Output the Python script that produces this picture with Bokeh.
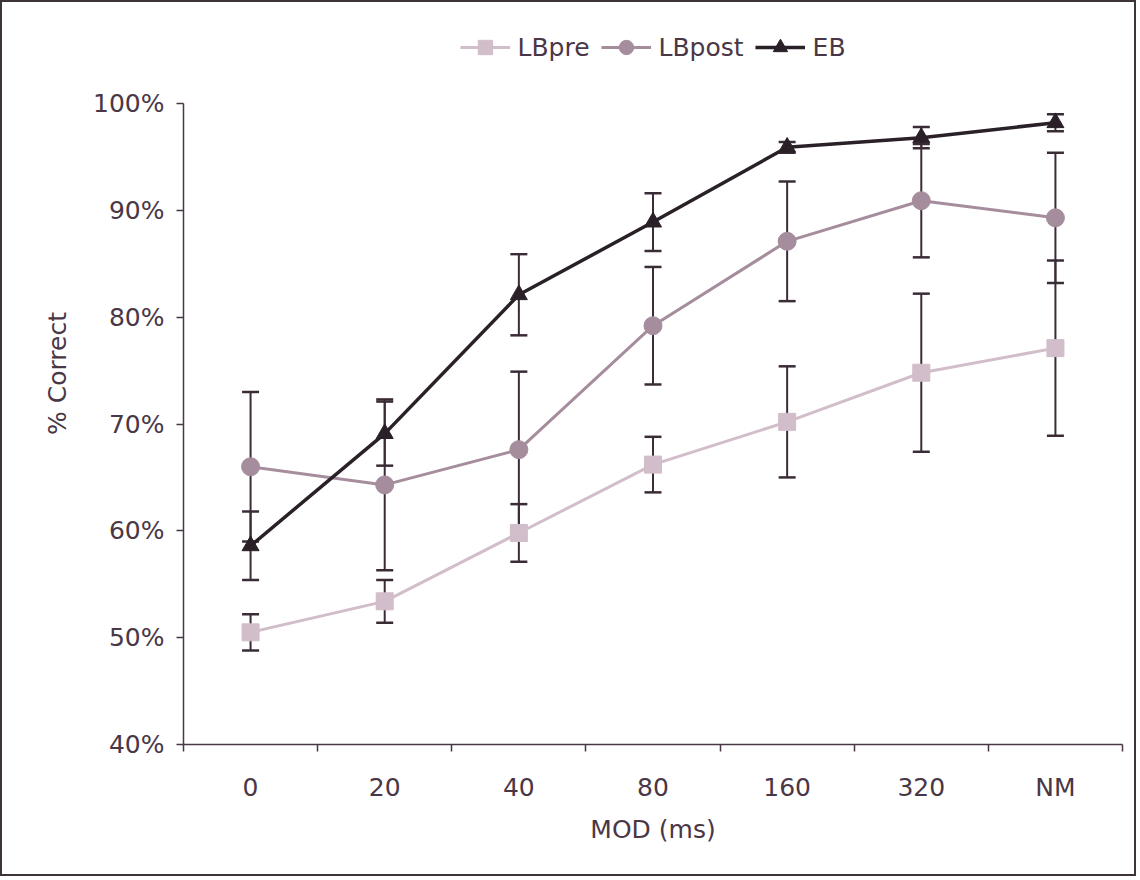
from bokeh.plotting import figure
from bokeh.models import (Range1d, FixedTicker, Whisker, TeeHead, ColumnDataSource,
                          Legend, LegendItem)
from bokeh.embed import file_html
from bokeh.resources import INLINE

categories = ["0", "20", "40", "80", "160", "320", "NM"]
lbpre = [50.5, 53.4, 59.8, 66.2, 70.2, 74.8, 77.1]
lbpre_err = [1.7, 2.0, 2.7, 2.6, 5.2, 7.4, 8.2]
lbpost = [66.0, 64.3, 67.6, 79.2, 87.1, 90.9, 89.3]
lbpost_err = [7.0, 8.0, 7.3, 5.5, 5.6, 5.3, 6.1]
eb = [58.6, 69.1, 82.1, 88.9, 95.9, 96.8, 98.2]
eb_err = [3.2, 3.0, 3.8, 2.7, 0.5, 1.0, 0.8]
y_ticks = [40, 50, 60, 70, 80, 90, 100]
y_tick_labels = ["40%", "50%", "60%", "70%", "80%", "90%", "100%"]

FONT = "DejaVu Sans"
TXT = "#4a3746"
FS = "25px"

xs = [i + 0.5 for i in range(len(categories))]

# frame spans the whole top; axis line stops at 100%
Y_MIN, Y_MAX = 40, 100
FRAME_H = 742
y_top = Y_MIN + FRAME_H * (Y_MAX - Y_MIN) / 641.0

p = figure(width=1136, height=876, output_backend="svg", toolbar_location=None,
           x_range=Range1d(0, len(categories)), y_range=Range1d(Y_MIN, y_top),
           min_border_left=181, min_border_right=16, min_border_top=0,
           min_border_bottom=134,
           styles={"border": "2px solid #3c3438"})
p.outline_line_color = None
p.xgrid.grid_line_color = None
p.ygrid.grid_line_color = None
p.background_fill_color = "white"
p.border_fill_color = "white"

# x axis
p.xaxis.ticker = FixedTicker(ticks=xs, minor_ticks=list(range(len(categories) + 1)))
p.xaxis.major_label_overrides = {x: c for x, c in zip(xs, categories)}
p.xaxis.major_tick_out = 0
p.xaxis.major_tick_in = 0
p.xaxis.minor_tick_out = 7
p.xaxis.minor_tick_in = 0
p.xaxis.minor_tick_line_color = TXT
p.xaxis.minor_tick_line_width = 1.5
p.xaxis.axis_line_color = TXT
p.xaxis.axis_line_width = 1.5
p.xaxis.major_label_text_font = FONT
p.xaxis.major_label_text_font_size = FS
p.xaxis.major_label_text_color = TXT
p.xaxis.major_label_standoff = 21
p.xaxis.axis_label = "MOD (ms)"
p.xaxis.axis_label_text_font = FONT
p.xaxis.axis_label_text_font_size = FS
p.xaxis.axis_label_text_font_style = "normal"
p.xaxis.axis_label_text_color = TXT
p.xaxis.axis_label_standoff = 10

# y axis
p.yaxis.ticker = FixedTicker(ticks=y_ticks, minor_ticks=[])
p.yaxis.bounds = (Y_MIN, Y_MAX)
p.yaxis.major_label_overrides = {t: l for t, l in zip(y_ticks, y_tick_labels)}
p.yaxis.major_tick_out = 7
p.yaxis.major_tick_in = 0
p.yaxis.major_tick_line_color = TXT
p.yaxis.major_tick_line_width = 1.5
p.yaxis.axis_line_color = TXT
p.yaxis.axis_line_width = 1.5
p.yaxis.major_label_text_font = FONT
p.yaxis.major_label_text_font_size = FS
p.yaxis.major_label_text_color = TXT
p.yaxis.major_label_standoff = 12
p.yaxis.axis_label = "% Correct"
p.yaxis.axis_label_text_font = FONT
p.yaxis.axis_label_text_font_size = FS
p.yaxis.axis_label_text_font_style = "normal"
p.yaxis.axis_label_text_color = TXT
p.yaxis.axis_label_standoff = 18

series = [
    ("LBpre", lbpre, lbpre_err, "#d2bdca", "square", 17, 3),
    ("LBpost", lbpost, lbpost_err, "#a68d9d", "circle", 18, 3),
    ("EB", eb, eb_err, "#2a2128", "triangle", 17, 3.5),
]

items = []
for name, vals, errs, col, mk, sz, lw in series:
    src = ColumnDataSource(dict(x=xs, y=vals,
                                lo=[v - e for v, e in zip(vals, errs)],
                                hi=[v + e for v, e in zip(vals, errs)]))
    w = Whisker(base="x", upper="hi", lower="lo", source=src,
                line_color="#3a2c36", line_width=2,
                upper_head=TeeHead(size=17, line_color="#3a2c36", line_width=2.5),
                lower_head=TeeHead(size=17, line_color="#3a2c36", line_width=2.5))
    p.add_layout(w)
    ln = p.line("x", "y", source=src, line_color=col, line_width=lw)
    sc = p.scatter("x", "y", source=src, marker=mk, size=sz, fill_color=col,
                   line_color=col)
    items.append(LegendItem(label=name, renderers=[ln, sc]))

legend = Legend(items=items, orientation="horizontal", location="top",
                label_text_font=FONT, label_text_font_size=FS,
                label_text_color=TXT, glyph_width=50, glyph_height=36,
                spacing=11, label_standoff=8, border_line_color=None,
                background_fill_alpha=0, padding=0, margin=27)
p.add_layout(legend, "center")

open("out.html", "w").write(file_html(p, INLINE))
